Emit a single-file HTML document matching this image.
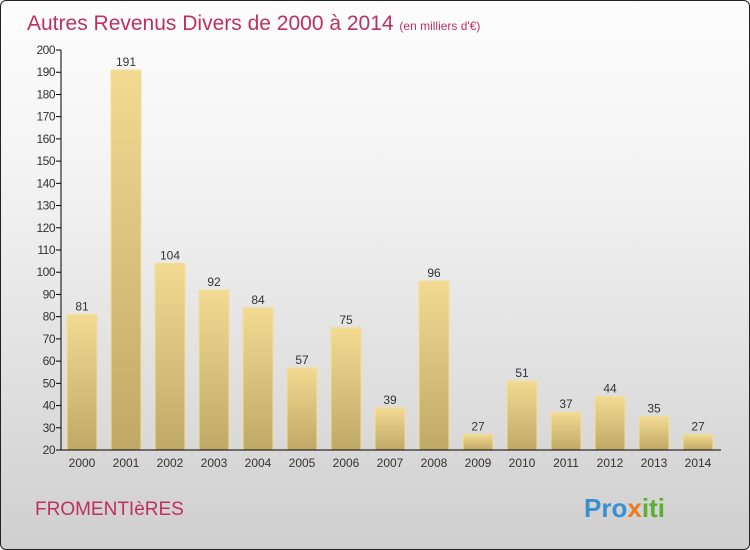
<!DOCTYPE html>
<html><head><meta charset="utf-8"><style>
body{margin:0}
#c{width:748px;height:548px;border:1px solid #222;border-radius:6px;background:linear-gradient(#fdfdfd,#f4f4f4 30%,#cfcfcf);position:relative;overflow:hidden;font-family:"Liberation Sans",sans-serif}
</style></head><body>
<div id="c">
<svg width="748" height="548" id="s">
<defs><linearGradient id="g" x1="0" y1="0" x2="0" y2="1"><stop offset="0" stop-color="#f2da92"/><stop offset="1" stop-color="#bfa966"/></linearGradient></defs>
<text x="26" y="29" font-size="21" fill="#c0305e">Autres Revenus Divers de 2000 à 2014 <tspan font-size="12">(en milliers d'€)</tspan></text>
<text x="34" y="514" font-size="19" fill="#c0305e">FROMENTIèRES</text>
<text x="583" y="516" font-size="26" font-weight="bold" fill="#3a8fd0">Pro<tspan fill="#e87c1e">x</tspan><tspan fill="#5ab030">iti</tspan></text>
</svg>
</div>
<script>
const years=["2000","2001","2002","2003","2004","2005","2006","2007","2008","2009","2010","2011","2012","2013","2014"];
const values=[81,191,104,92,84,57,75,39,96,27,51,37,44,35,27];
const yTicks=[20,30,40,50,60,70,80,90,100,110,120,130,140,150,160,170,180,190,200];
const s=document.getElementById('s');const NS="http://www.w3.org/2000/svg";
const y=v=>449-(v-20)*400/180;
const x=i=>66+i*44;
function el(t,a,txt){const e=document.createElementNS(NS,t);for(const k in a)e.setAttribute(k,a[k]);if(txt!==undefined)e.textContent=txt;s.appendChild(e);return e;}
yTicks.forEach(v=>{
 const l=el('line',{x1:55,x2:60,y1:y(v),y2:y(v),stroke:'#000'});
 
 
 const t=el('text',{x:54,y:y(v)+4,'font-size':12,fill:'#333','text-anchor':'end','letter-spacing':'-0.5'},v);
 
 
});
values.forEach((v,i)=>{
 const r=el('rect',{x:x(i),y:y(v),width:30,height:y(20)-y(v),fill:'url(#g)',stroke:'#f3df9a','stroke-width':1});
 
 
 const t=el('text',{x:x(i)+15,y:y(v)-4,'font-size':12,fill:'#333','text-anchor':'middle'},v);
 
 
 const xt=el('text',{x:x(i)+15,y:466,'font-size':12,fill:'#333','text-anchor':'middle'},years[i]);
 
 
});
const ya=el('line',{x1:60,x2:60,y1:y(200),y2:y(20),stroke:'#000'});


const xa=el('line',{x1:60,x2:720,y1:y(20),y2:y(20),stroke:'#000'});


</script>
</body></html>
